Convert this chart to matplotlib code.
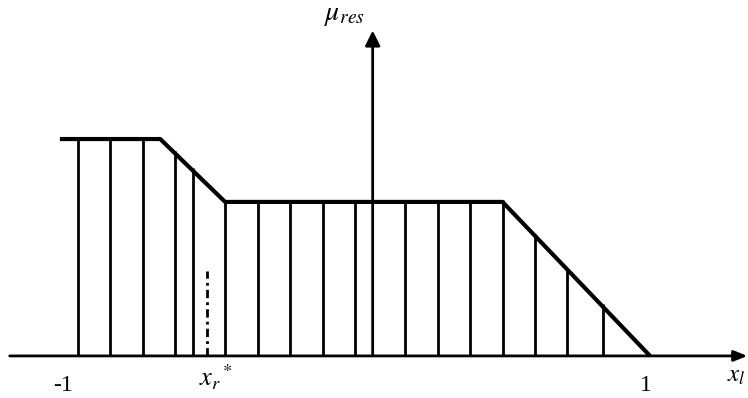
import numpy as np
import matplotlib.pyplot as plt

plt.rcParams['font.family'] = 'Liberation Serif'
plt.rcParams['mathtext.fontset'] = 'stix'

# membership function of the result (breakpoints and levels)
mu_x = [-1.0, -0.66, -0.44, 0.50, 1.0]
mu_y = [1.0, 1.0, 0.71, 0.71, 0.0]

# hatching lines under the curve
hatch_x = [-0.94, -0.83, -0.72, -0.61, -0.55, -0.44, -0.33, -0.22, -0.11, 0.0,
           0.17, 0.28, 0.39, 0.50, 0.61, 0.72, 0.84]

# defuzzified value x_r*
x_star = -0.50
x_star_height = 0.39

# position of the mu axis
mu_axis_x = 0.06

fig = plt.figure(figsize=(7.48, 3.98), dpi=100)
ax = fig.add_axes([0, 0, 1, 1])
ax.set_xlim(-1.203, 1.332)
ax.set_ylim(-0.194, 1.641)
ax.axis('off')

# axes with arrows
ax.annotate('', xy=(1.330, 0), xytext=(-1.17, 0), annotation_clip=False,
            arrowprops=dict(arrowstyle='-|>,head_length=0.8,head_width=0.32',
                            lw=2.0, color='black', shrinkA=0, shrinkB=0))
ax.annotate('', xy=(mu_axis_x, 1.50), xytext=(mu_axis_x, 0),
            annotation_clip=False,
            arrowprops=dict(arrowstyle='-|>,head_length=0.9,head_width=0.45',
                            lw=2.0, color='black', shrinkA=0, shrinkB=0))

# vertical hatching
tops = np.interp(hatch_x, mu_x, mu_y)
ax.vlines(hatch_x, 0, tops + 0.01, colors='black', lw=2.0)

# the curve itself
ax.plot(mu_x, mu_y, color='black', lw=3.0, solid_capstyle='butt')

# x_r* marker
ax.plot([x_star, x_star], [0, x_star_height], color='black', lw=2.0,
        linestyle=(0, (3, 1.5, 1, 1.5)))

# labels
ax.text(-0.99, -0.09, '-1', fontsize=17, ha='center', va='top')
ax.text(0.985, -0.09, '1', fontsize=17, ha='center', va='top')
ax.text(x_star + 0.03, -0.03, r'$x_r{}^*$', fontsize=19, ha='center', va='top')
ax.text(1.325, -0.04, r'$x_l$', fontsize=18, ha='right', va='top')
ax.text(-0.105, 1.51, r'$\mu_{res}$', fontsize=20, ha='left', va='bottom')

plt.savefig('out.png', dpi=100)
